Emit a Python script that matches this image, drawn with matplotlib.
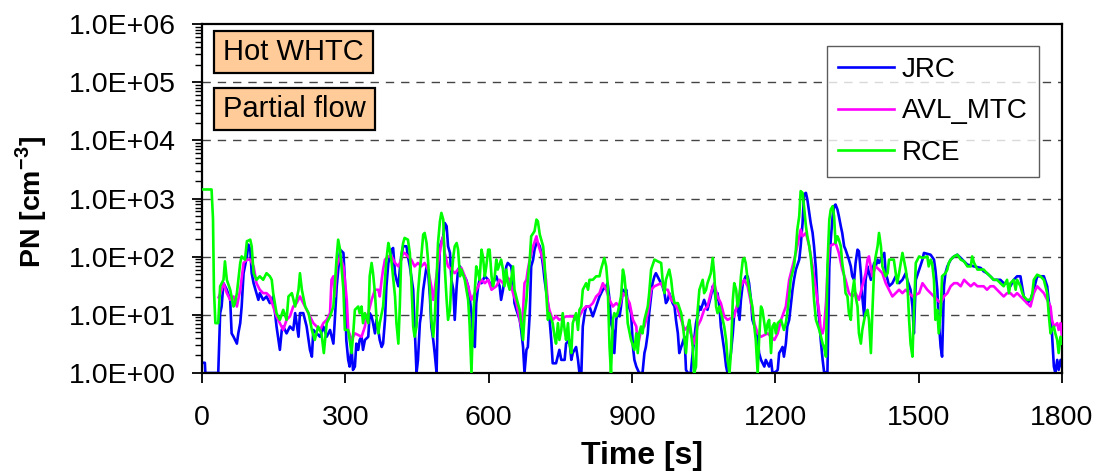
import numpy as np
import matplotlib
matplotlib.use('Agg')
import matplotlib.pyplot as plt
from matplotlib.patches import Rectangle
from matplotlib.ticker import FuncFormatter, LogLocator, NullFormatter

# %% data (time in s, PN in cm^-3)
jrc_t = [0, 6, 7, 34, 38, 41, 45, 52, 59, 62, 66, 73, 76, 80, 83, 87, 94, 97, 101, 104,
         108, 114, 118, 121, 128, 135, 142, 149, 153, 156, 163, 167, 170, 177, 184, 191, 195, 198, 202, 205,
         212, 219, 226, 230, 233, 240, 247, 254, 261, 268, 275, 278, 282, 289, 296, 299,
         302, 306, 309, 313, 316, 320, 323, 327, 330, 334, 337, 341, 348, 351, 355, 358, 362, 365, 369, 372,
         376, 379, 383, 386, 390, 397, 400, 404, 407, 411, 414, 417, 421, 428, 431, 435, 438, 442, 445, 449,
         452, 456, 459, 463, 466, 470, 473, 477, 480, 484, 487, 491, 494, 498, 505, 508, 512, 515, 519, 522,
         526, 529, 533, 536, 540, 546, 553, 557, 560, 564, 567, 571, 574, 578, 581, 585, 592, 599, 606,
         616, 623, 626, 630, 633, 637, 640, 647, 651, 654, 658, 665, 668, 672, 675, 679, 682, 686, 689, 693,
         696, 700, 703, 707, 710, 714, 717, 720, 724, 727, 731, 734, 741, 748, 752, 759, 762, 769, 773, 776,
         783, 787, 790, 794, 797, 801, 804, 811, 818, 825, 832, 839, 846, 849, 853, 856, 860, 863, 867, 870,
         874, 877, 881, 884, 888, 891, 898, 902, 905, 909,
         915, 922, 926, 929, 933, 936, 940, 943, 947, 950, 957, 964, 968, 971, 975, 978, 985, 989, 992, 996,
         999, 1003, 1010, 1013, 1017, 1023, 1027, 1030, 1034, 1037, 1041, 1044, 1051, 1058, 1065, 1069, 1072, 1076, 1079, 1083,
         1086, 1093, 1097, 1100, 1107, 1111, 1114, 1121, 1125, 1128, 1132, 1138, 1142, 1145, 1149, 1152, 1159, 1163, 1166, 1170,
         1177, 1180, 1187, 1191, 1194, 1201, 1205, 1208, 1212,
         1215, 1218, 1222, 1225, 1229, 1232, 1236, 1239, 1243, 1250, 1253, 1257, 1260, 1264, 1267, 1271, 1274, 1278, 1281, 1285,
         1288, 1292, 1295, 1299, 1302, 1309, 1313, 1316, 1320, 1323, 1326, 1330, 1333, 1337, 1340, 1344, 1347, 1354, 1358, 1361,
         1365, 1368, 1372, 1375, 1379, 1382, 1386, 1389, 1393, 1396, 1400, 1403, 1407, 1410, 1414, 1417, 1424, 1428, 1431, 1435,
         1438, 1445, 1452, 1459, 1466, 1473, 1476, 1483, 1487, 1490, 1494, 1501, 1508,
         1511, 1525, 1532, 1535, 1539, 1542, 1546, 1549, 1553, 1556, 1560, 1567, 1574, 1581, 1588, 1595, 1602, 1616, 1630, 1636,
         1643, 1650, 1657, 1671, 1678, 1685, 1692, 1699, 1706, 1713, 1720, 1727, 1734, 1741, 1748, 1762, 1769, 1772, 1776, 1779,
         1783, 1786, 1790, 1793, 1797, 1800]
jrc_pn = [1.5, 1.5, 1.0, 1.0, 10.7, 13.9, 35, 27, 18.1, 4.8, 4.2, 3.2, 4.8, 7.2, 13.9, 52, 101, 161, 132, 52,
          35, 23.6, 18.1, 23.6, 18.1, 20.7, 15.9, 20.7, 10.7, 6.3, 2.5, 5.5, 6.3, 4.8, 6.3, 5.5, 10.7, 7.2, 4.2, 10.7,
          10.7, 6.3, 2.5, 1.91, 5.5, 4.8, 4.2, 6.3, 4.2, 5.5, 3.2, 8.2, 31, 132, 116, 40,
          3.7, 1.68, 1.29, 2.8, 1.13, 1.29, 3.2, 2.5, 3.7, 4.2, 2.5, 3.7, 4.2, 10.7, 9.4, 7.2, 4.8, 8.2, 5.5, 3.7,
          2.8, 3.2, 8.2, 31, 78, 132, 141, 52, 40, 31, 60, 101, 151, 151, 101, 68, 46, 27, 6.3, 1.0,
          1.68, 7.2, 10.7, 27, 40, 68, 60, 20.7, 6.3, 3.7, 2.2, 1.0, 18.1, 151, 224, 380, 334, 151, 116, 40,
          27, 8.2, 31, 60, 68, 52, 40, 31, 20.7, 10.7, 4.2, 2.8, 15.9, 31, 40, 35, 46, 40, 31,
          46, 31, 18.1, 27, 40, 68, 78, 68, 40, 15.9, 12.2, 8.2, 5.5, 2.8, 1.0, 2.5, 2.8, 10.7, 68, 89,
          132, 172, 172, 151, 116, 68, 40, 27, 15.9, 9.4, 3.7, 1.47, 1.47, 2.5, 1.68, 1.68, 3.2, 3.7, 1.68, 2.2,
          2.8, 1.68, 1.0, 1.0, 6.3, 10.7, 13.9, 13.9, 9.4, 13.9, 20.7, 27, 31, 35, 18.1, 7.2, 5.5, 2.2, 8.2, 10.7,
          9.4, 13.9, 27, 23.6, 27, 15.9, 10.7, 2.8, 1.68, 1.29,
          1.0, 1.0, 2.2, 2.8, 4.8, 10.7, 20.7, 35, 46, 52, 40, 31, 23.6, 15.9, 18.1, 23.6, 15.9, 13.9, 8.2, 4.8,
          2.2, 2.8, 4.2, 1.13, 1.0, 1.0, 2.2, 3.7, 7.2, 9.4, 13.9, 12.2, 18.1, 12.2, 20.7, 31, 27, 18.1, 23.6, 13.9,
          6.3, 2.5, 1.29, 1.0, 2.2, 4.8, 10.7, 13.9, 8.2, 18.1, 35, 46, 46, 35, 18.1, 8.2, 5.5, 4.2, 2.2, 1.68,
          1.29, 1.68, 1.29, 1.68, 1.0, 1.05, 1.13, 2.2, 2.5,
          2.8, 1.91, 3.2, 6.3, 8.2, 13.9, 27, 40, 60, 89, 151, 380, 1180, 1250, 961, 566, 380, 256, 151, 60,
          18.1, 8.2, 3.7, 1.68, 1.05, 1.0, 68, 196, 496, 738, 788, 646, 496, 334, 256, 151, 132, 89, 68, 46,
          40, 78, 132, 124, 52, 20.7, 9.4, 40, 68, 52, 40, 60, 78, 68, 89, 78, 101, 116, 52, 40,
          31, 35, 46, 35, 40, 52, 40, 27, 13.9, 4.8, 40, 60, 89,
          116, 108, 89, 60, 27, 8.2, 2.8, 1.91, 31, 52, 68, 89, 101, 108, 95, 83, 73, 68, 64, 56,
          52, 46, 40, 40, 35, 35, 31, 40, 46, 46, 20.7, 15.9, 18.1, 27, 46, 46, 31, 18.1, 10.7, 4.8,
          1.29, 1.0, 1.68, 1.13, 1.68, 1.29]

avl_t = [35, 41, 45, 52, 59, 66, 73, 80, 87, 94, 101,
         108, 114, 121, 128, 135, 142, 149, 156, 163, 170, 177, 184, 191, 198, 205, 212, 219, 226, 233, 240,
         247, 254, 261, 268, 271, 275, 278, 282, 289, 296, 299, 303,
         306, 313, 320, 334, 341, 344, 348, 355, 362, 369, 372, 376, 379, 383, 390, 397, 404, 411, 417, 421,
         424, 431, 438, 445, 452, 459, 466, 473, 480, 484, 487, 494, 501, 505, 508, 515, 522, 529, 536, 543,
         550, 557, 564, 571, 578, 585, 592, 599, 606,
         616, 623, 630, 637, 644, 651, 658, 665, 668, 672, 675, 679, 682, 686, 693, 700, 703, 707, 714, 720,
         724, 727, 734, 741, 748, 762, 776, 783, 790, 797, 804, 811, 818, 825, 832, 839, 846, 853, 860, 867,
         874, 881, 888, 895, 902, 909,
         912, 919, 926, 933, 940, 947, 961, 968, 975, 982, 989, 996, 1003, 1010, 1017, 1023, 1030, 1037, 1044, 1051,
         1058, 1065, 1072, 1079, 1086, 1093, 1100, 1114, 1121, 1128, 1135, 1142, 1149, 1156, 1163, 1170, 1184, 1191, 1198, 1205,
         1212,
         1222, 1229, 1236, 1243, 1250, 1253, 1257, 1264, 1271, 1278, 1285, 1292, 1295, 1299, 1302, 1306, 1309, 1313, 1320, 1326,
         1333, 1340, 1347, 1354, 1361, 1368, 1375, 1382, 1389, 1393, 1396, 1403, 1410, 1417, 1424, 1431, 1438, 1445, 1452, 1459,
         1466, 1473, 1480, 1487, 1501, 1508,
         1518, 1525, 1532, 1539, 1546, 1553, 1560, 1567, 1574, 1581, 1588, 1595, 1602, 1609, 1616, 1623, 1636, 1643, 1650, 1657,
         1664, 1671, 1678, 1685, 1692, 1699, 1706, 1713, 1720, 1727, 1734, 1741, 1748, 1755, 1762, 1769, 1776, 1779, 1783, 1790,
         1793, 1797, 1800]
avl_pn = [20, 27, 35, 23.6, 18.1, 20.7, 13.9, 27, 78, 89, 89,
          68, 35, 27, 23.6, 23.6, 20.7, 13.9, 9.4, 7.2, 5.5, 8.2, 9.4, 13.9, 15.9, 20.7, 15.9, 12.2, 9.4, 7.2, 6.3,
          5.5, 7.2, 8.2, 10.7, 40, 46, 20.7, 68, 101, 68, 40, 18.1,
          5.5, 3.7, 4.8, 4.2, 6.3, 9.4, 10.7, 18.1, 27, 27, 20.7, 40, 60, 89, 101, 101, 78, 68, 89, 116,
          116, 101, 89, 68, 78, 68, 78, 60, 31, 18.1, 27, 78, 172, 224, 116, 68, 60, 52, 60, 64,
          46, 31, 18.1, 23.6, 31, 40, 35, 40, 27,
          31, 40, 35, 46, 40, 23.6, 15.9, 8.2, 6.3, 12.2, 35, 40, 60, 89, 151, 224, 172, 132, 89, 40,
          15.9, 12.2, 8.2, 9.4, 8.2, 9.4, 9.4, 8.2, 9.4, 12.2, 13.9, 13.9, 15.9, 20.7, 23.6, 35, 27, 18.1, 13.9, 15.9,
          13.9, 23.6, 20.7, 15.9, 8.2, 6.3,
          2.8, 5.5, 6.3, 10.7, 27, 31, 35, 27, 27, 18.1, 15.9, 12.2, 8.2, 5.5, 6.3, 4.8, 3.2, 6.3, 8.2, 12.2,
          13.9, 23.6, 35, 20.7, 15.9, 9.4, 8.2, 9.4, 15.9, 31, 40, 31, 15.9, 7.2, 4.8, 4.2, 4.8, 4.2, 3.7, 4.8,
          8.2,
          13.9, 40, 68, 116, 224, 292, 224, 256, 151, 68, 27, 10.7, 5.5, 4.8, 6.3, 15.9, 52, 151, 161, 172,
          116, 60, 40, 23.6, 20.7, 23.6, 18.1, 31, 52, 89, 101, 46, 68, 60, 52, 35, 27, 20.7, 23.6, 27,
          23.6, 27, 23.6, 20.7, 23.6, 35,
          27, 23.6, 20.7, 18.1, 15.9, 20.7, 23.6, 31, 35, 35, 31, 40, 35, 31, 35, 31, 31, 27, 31, 31,
          27, 23.6, 20.7, 23.6, 23.6, 20.7, 23.6, 20.7, 18.1, 15.9, 13.9, 23.6, 31, 27, 23.6, 18.1, 13.9, 8.2, 6.3, 7.2,
          5.5, 7.2, 4.2]

rce_t = [0, 20, 23, 25, 28, 34, 38, 45, 48, 52, 59, 66, 69, 73, 80, 83, 90, 94, 101, 104,
         108, 114, 121, 128, 135, 142, 146, 149, 156, 163, 170, 177, 181, 188, 195, 202, 205, 209, 216, 223,
         230, 236, 243, 250, 255, 261, 268, 275, 282, 285, 289, 296, 299,
         306, 313, 316, 320, 327, 330, 334, 337, 341, 348, 351, 355, 358, 362, 365, 369, 372, 379, 386, 390,
         393, 397, 404, 407, 411, 414, 417, 421, 424, 431, 435, 438, 442, 445, 449, 452, 456, 459, 463, 466,
         470, 473, 477, 480, 484, 487, 491, 494, 498, 501, 505, 508, 512, 515, 519, 522, 526, 529, 533, 536,
         540, 543, 550, 557, 560, 564, 567, 571, 574, 578, 581, 585, 588, 592, 595, 599, 602, 606, 609,
         612, 616, 619, 626, 630, 633, 637, 640, 644, 651, 654, 661, 665, 668, 672, 675, 679, 682, 686, 689,
         696, 700, 703, 707, 714, 717, 720, 724, 727, 734, 738, 741, 745, 748, 752, 755, 759, 762, 766, 769,
         773, 776, 783, 787, 790, 794, 797, 804, 808, 811, 818, 825, 832, 835, 839, 842, 846, 849, 853, 856,
         860, 863, 867, 870, 877, 881, 884, 888, 891, 898, 905, 909,
         912, 915, 919, 922, 926, 933, 936, 940, 947, 954, 961, 964, 968, 971, 978, 982, 985, 989, 996, 1003,
         1006, 1010, 1013, 1017, 1020, 1023, 1027, 1030, 1034, 1037, 1041, 1048, 1051, 1055, 1058, 1065, 1069, 1072, 1076, 1079,
         1083, 1090, 1093, 1097, 1100, 1104, 1107, 1111, 1114, 1118, 1121, 1125, 1128, 1132, 1135, 1138, 1142, 1149, 1152, 1156,
         1159, 1163, 1166, 1170, 1173, 1180, 1184, 1187, 1191, 1194, 1198, 1201, 1205, 1212,
         1218, 1222, 1225, 1229, 1232, 1239, 1243, 1246, 1250, 1253, 1257, 1260, 1264, 1267, 1271, 1274, 1278, 1281, 1285, 1292,
         1299, 1302, 1306, 1309, 1313, 1316, 1320, 1323, 1326, 1330, 1333, 1337, 1340, 1344, 1347, 1351, 1354, 1358, 1361, 1365,
         1368, 1372, 1375, 1379, 1382, 1386, 1389, 1393, 1396, 1400, 1403, 1407, 1410, 1414, 1417, 1421, 1424, 1431, 1435, 1438,
         1448, 1452, 1455, 1459, 1466, 1469, 1473, 1476, 1480, 1483, 1487, 1490, 1494, 1501, 1508,
         1518, 1521, 1525, 1528, 1532, 1535, 1539, 1542, 1546, 1549, 1556, 1560, 1563, 1567, 1574, 1581, 1588, 1595, 1602, 1609,
         1612, 1616, 1623, 1636, 1643, 1650, 1657, 1664, 1671, 1678, 1685, 1689, 1692, 1699, 1703, 1706, 1713, 1717, 1720, 1727,
         1734, 1738, 1741, 1748, 1755, 1762, 1769, 1772, 1776, 1779, 1783, 1786, 1790, 1793, 1797, 1800]
rce_pn = [1430, 1430, 450, 27, 7.2, 7.2, 31, 40, 83, 40, 27, 13.9, 15.9, 23.6, 78, 101, 89, 184, 196, 151,
          52, 40, 46, 40, 52, 46, 40, 23.6, 10.7, 8.2, 12.2, 8.2, 20.7, 23.6, 13.9, 27, 52, 27, 13.9, 10.7,
          5.5, 3.7, 6.3, 4.8, 2.2, 7.2, 9.4, 13.9, 101, 196, 132, 27, 5.5,
          5.5, 2.2, 4.2, 12.2, 13.9, 10.7, 13.9, 7.2, 10.7, 7.2, 46, 78, 52, 23.6, 9.4, 4.8, 7.2, 13.9, 89, 172,
          132, 78, 20.7, 7.2, 3.2, 13.9, 101, 172, 210, 196, 116, 40, 6.3, 4.2, 6.3, 23.6, 60, 101, 240, 256,
          172, 89, 27, 8.2, 4.2, 8.2, 40, 172, 406, 566, 434, 68, 18.1, 8.2, 12.2, 40, 101, 151, 172, 132,
          46, 60, 40, 18.1, 7.2, 1.0, 7.2, 27, 68, 52, 40, 132, 101, 46, 68, 132, 132, 46, 31,
          40, 89, 60, 89, 60, 31, 60, 35, 27, 68, 27, 15.9, 12.2, 7.2, 3.7, 9.4, 18.1, 40, 89, 224,
          274, 434, 406, 240, 151, 78, 27, 8.2, 10.7, 7.2, 4.2, 3.2, 7.2, 3.7, 5.5, 10.7, 5.5, 3.7, 7.2, 3.2,
          2.2, 7.2, 10.7, 5.5, 12.2, 13.9, 27, 35, 27, 40, 40, 46, 46, 60, 78, 95, 68, 35, 2.8, 1.0,
          8.2, 10.7, 9.4, 10.7, 20.7, 60, 46, 20.7, 7.2, 3.7, 2.5, 4.8,
          2.2, 4.8, 6.3, 4.8, 8.2, 13.9, 23.6, 60, 89, 83, 78, 40, 23.6, 40, 60, 40, 23.6, 15.9, 15.9, 10.7,
          7.2, 3.7, 2.2, 6.3, 8.2, 5.5, 2.8, 1.0, 1.29, 10.7, 27, 40, 23.6, 27, 35, 52, 95, 52, 13.9, 10.7,
          13.9, 8.2, 6.3, 3.7, 1.68, 1.0, 2.2, 18.1, 35, 27, 13.9, 20.7, 46, 89, 95, 78, 40, 18.1, 13.9, 6.3,
          3.7, 1.0, 3.7, 13.9, 12.2, 4.8, 7.2, 8.2, 2.2, 6.3, 7.2, 4.8, 7.2, 8.2,
          5.5, 7.2, 10.7, 20.7, 40, 68, 132, 292, 496, 1340, 1250, 738, 334, 224, 151, 101, 46, 18.1, 8.2, 5.5,
          3.2, 2.8, 1.91, 68, 434, 646, 738, 496, 172, 224, 196, 151, 78, 46, 23.6, 20.7, 10.7, 8.2, 23.6, 40,
          20.7, 13.9, 4.8, 3.2, 5.5, 8.2, 10.7, 12.2, 8.2, 2.2, 10.7, 68, 101, 151, 256, 151, 68, 46, 52, 89,
          89, 52, 35, 52, 116, 89, 60, 40, 8.2, 3.2, 1.91, 10.7, 78, 101, 95,
          101, 68, 89, 78, 40, 8.2, 12.2, 4.8, 10.7, 46, 52, 60, 78, 89, 101, 108, 89, 83, 68, 68,
          101, 78, 60, 60, 52, 46, 40, 40, 35, 31, 40, 23.6, 35, 40, 27, 40, 31, 23.6, 20.7, 18.1,
          18.1, 23.6, 40, 49, 46, 40, 23.6, 10.7, 4.8, 5.5, 6.3, 4.8, 3.7, 2.2, 4.2, 3.2]

x_ticks = [0, 300, 600, 900, 1200, 1500, 1800]
y_ticks = [1e0, 1e1, 1e2, 1e3, 1e4, 1e5, 1e6]
grid_levels = [1e1, 1e2, 1e3, 1e4, 1e5]

# %% figure
plt.rcParams['font.family'] = ['Liberation Sans', 'DejaVu Sans']
plt.rcParams['mathtext.fontset'] = 'custom'
plt.rcParams['mathtext.rm'] = 'Liberation Sans'
plt.rcParams['mathtext.bf'] = 'Liberation Sans:bold'

fig = plt.figure(figsize=(11.14, 4.75), dpi=100)
ax = fig.add_axes([202 / 1114, 1 - 373 / 475, 860 / 1114, 349 / 475])

for lev in grid_levels:
    ax.axhline(lev, color='#444444', lw=1.0, dashes=(6, 5), zorder=1)

ax.plot(jrc_t, jrc_pn, color='#0000FF', lw=1.9, label='JRC', zorder=2)
ax.plot(avl_t, avl_pn, color='#FF00FF', lw=1.9, label='AVL_MTC', zorder=3)
ax.plot(rce_t, rce_pn, color='#00FF00', lw=1.9, label='RCE', zorder=4)

ax.set_yscale('log')
ax.set_xlim(0, 1800)
ax.set_ylim(1, 1e6)
ax.set_xticks(x_ticks)
ax.set_yticks(y_ticks)
ax.yaxis.set_major_formatter(FuncFormatter(lambda v, p: f'{v:.1E}'))
ax.yaxis.set_minor_locator(LogLocator(base=10, subs=np.arange(2, 10), numticks=20))
ax.yaxis.set_minor_formatter(NullFormatter())
ax.tick_params(axis='both', which='major', labelsize=20.5, direction='out', length=7, width=1.3)
ax.tick_params(axis='y', which='minor', direction='out', length=5, width=1.0)
ax.tick_params(axis='y', which='major', pad=12)
ax.tick_params(axis='x', which='major', pad=16)
for s in ax.spines.values():
    s.set_linewidth(1.6)

ax.set_xlabel('Time [s]', fontsize=23, fontweight='bold')
ax.xaxis.set_label_coords(0.512, -0.195)
ax.set_ylabel(r'PN [cm$^{\mathbf{-3}}$]', fontsize=20.5, fontweight='bold')
ax.yaxis.set_label_coords(-0.178, 0.49)

# info boxes
ax.add_patch(Rectangle((0.014, 0.8596), 0.185, 0.1203, transform=ax.transAxes,
                       fc='#FFCC99', ec='black', lw=1.6, zorder=5))
ax.text(0.1064, 0.9198, 'Hot WHTC', transform=ax.transAxes, fontsize=21,
        ha='center', va='center', zorder=6)
ax.add_patch(Rectangle((0.014, 0.6963), 0.187, 0.1203, transform=ax.transAxes,
                       fc='#FFCC99', ec='black', lw=1.6, zorder=5))
ax.text(0.1076, 0.7564, 'Partial flow', transform=ax.transAxes, fontsize=21,
        ha='center', va='center', zorder=6)

leg = ax.legend(loc='upper left', bbox_to_anchor=(827 / 1114, 1 - 46 / 475),
                bbox_transform=fig.transFigure, fontsize=20, frameon=True,
                fancybox=False, edgecolor='#333333', handlelength=2.0,
                handletextpad=0.3, labelspacing=0.55, borderpad=0.4, borderaxespad=0)
leg.get_frame().set_linewidth(1.0)
leg.set_zorder(10)

fig.savefig('out.png', dpi=100)
